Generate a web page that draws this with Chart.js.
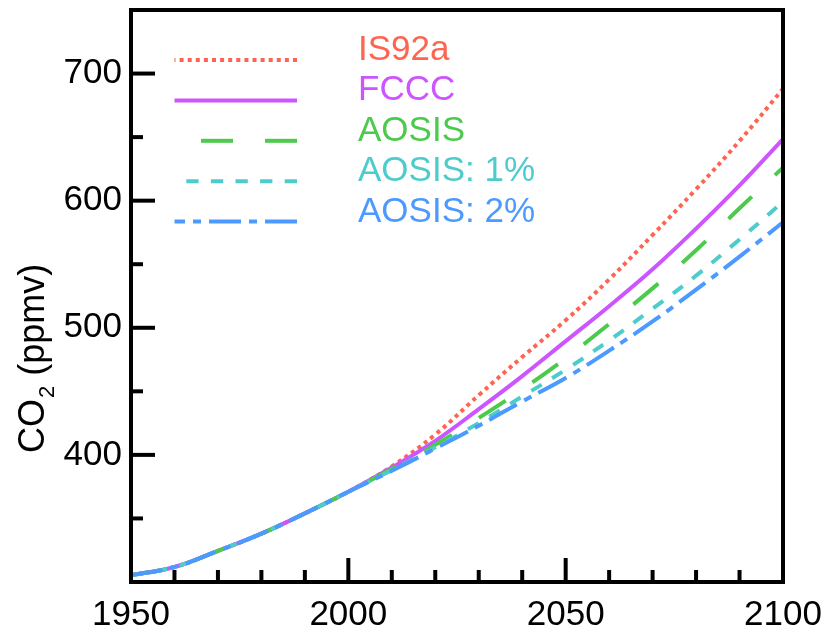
<!DOCTYPE html>
<html>
<head>
<meta charset="utf-8">
<script src="https://cdn.jsdelivr.net/npm/chart.js@4.4.1/dist/chart.umd.min.js"></script>
<style>
  html, body { margin: 0; padding: 0; background: #fff; }
  #wrap { width: 826px; height: 633px; }
</style>
</head>
<body>
<div id="wrap"><canvas id="chart" width="826" height="633"></canvas></div>
<script>
// CO2 concentration scenarios (ppmv)
const years = [1950, 1960, 1970, 1980, 1990, 2000, 2010, 2020, 2030, 2040, 2050, 2060, 2070, 2080, 2090, 2100];
const is92a = [305.3, 311.8, 324.5, 338, 354, 371, 391, 416, 447, 477, 506, 538, 573, 609, 647, 688];
const fccc = [305.3, 311.8, 324.5, 338, 354, 371, 390, 411, 436, 462, 489.5, 517, 546, 578, 612, 648.5];
const aosis = [305.3, 311.8, 324.5, 338, 354, 371, 389, 408, 429, 451.5, 476, 503, 531, 561, 594, 626];
const aosis1 = [305.3, 311.8, 324.5, 338, 354, 371, 388, 406, 425, 446, 467, 490, 515, 541, 569.5, 599];
const aosis2 = [305.3, 311.8, 324.5, 338, 354, 371, 387.5, 405, 423, 442, 460.5, 482, 505, 530, 556, 583];

const seriesNames = ['IS92a', 'FCCC', 'AOSIS', 'AOSIS: 1%', 'AOSIS: 2%'];
const xLabelled = [1950, 2000, 2050, 2100];
const yLabelled = [400, 500, 600, 700];

const FONT = '"Liberation Sans", Arial, Helvetica, sans-serif';
const COLORS = {
    red: '#ff6450',
    purple: '#cc55ff',
    green: '#4cca4c',
    cyan: '#4ecccc',
    blue: '#4c9aff'
};

function pts(vals) {
    return years.map((yr, i) => ({ x: yr, y: vals[i] }));
}

function series(label, vals, color, dash, order) {
    return {
        label,
        data: pts(vals),
        borderColor: color,
        backgroundColor: color,
        borderWidth: 4,
        borderDash: dash,
        borderCapStyle: 'butt',
        pointRadius: 0,
        tension: 0.4,
        fill: false,
        order
    };
}

// keep the plot box exactly where the reference has it
function pinScale(size) {
    return (s) => {
        if (s.isHorizontal()) s.height = size; else s.width = size;
        s.paddingTop = 0;
        s.paddingBottom = 0;
        s.paddingLeft = 0;
        s.paddingRight = 0;
    };
}

// frame + inward tick marks
const framePlugin = {
    id: 'frame',
    afterDatasetsDraw(chart) {
        const { ctx, chartArea: a, scales: { x, y } } = chart;
        ctx.save();
        ctx.strokeStyle = '#000';
        ctx.lineWidth = 4;
        ctx.lineCap = 'butt';
        x.ticks.forEach((t) => {
            if (t.value <= x.min || t.value >= x.max) return;
            const px = x.getPixelForValue(t.value);
            const len = t.value % 50 === 0 ? 24 : 12;
            ctx.beginPath();
            ctx.moveTo(px, a.bottom);
            ctx.lineTo(px, a.bottom - len);
            ctx.stroke();
        });
        y.ticks.forEach((t) => {
            if (t.value <= y.min || t.value >= y.max) return;
            const py = y.getPixelForValue(t.value);
            const len = t.value % 100 === 0 ? 24 : 12;
            ctx.beginPath();
            ctx.moveTo(a.left, py);
            ctx.lineTo(a.left + len, py);
            ctx.stroke();
        });
        ctx.strokeRect(a.left, a.top, a.right - a.left, a.bottom - a.top);
        ctx.restore();
    }
};

// legend with line samples to the left of coloured labels
const legendPlugin = {
    id: 'sideLegend',
    afterDraw(chart) {
        const { ctx } = chart;
        ctx.save();
        chart.data.datasets.forEach((ds, i) => {
            const yRow = 60 + i * 40.4;
            ctx.strokeStyle = ds.borderColor;
            ctx.lineWidth = 4;
            ctx.setLineDash(ds.borderDash || []);
            ctx.beginPath();
            ctx.moveTo(297, yRow);
            ctx.lineTo(174.5, yRow);
            ctx.stroke();
            ctx.setLineDash([]);
            ctx.fillStyle = ds.borderColor;
            ctx.font = `35px ${FONT}`;
            ctx.textAlign = 'left';
            ctx.textBaseline = 'alphabetic';
            ctx.fillText(ds.label, 358, yRow);
        });
        ctx.restore();
    }
};

// rotated y title with a real subscript
const yTitlePlugin = {
    id: 'yTitle',
    afterDraw(chart) {
        const { ctx } = chart;
        ctx.save();
        ctx.translate(44, 453);
        ctx.rotate(-Math.PI / 2);
        ctx.fillStyle = '#000';
        ctx.textBaseline = 'alphabetic';
        ctx.textAlign = 'left';
        ctx.font = `36px ${FONT}`;
        let xo = 0;
        ctx.fillText('CO', xo, 0);
        xo += ctx.measureText('CO').width;
        ctx.font = `22px ${FONT}`;
        ctx.fillText('2', xo + 1, 10);
        xo += ctx.measureText('2').width + 1;
        ctx.font = `36px ${FONT}`;
        ctx.fillText(' (ppmv)', xo, 0);
        ctx.restore();
    }
};

new Chart(document.getElementById('chart'), {
    type: 'line',
    data: {
        datasets: [
            series(seriesNames[0], is92a, COLORS.red, [4, 4.1], 5),
            series(seriesNames[1], fccc, COLORS.purple, [], 4),
            series(seriesNames[2], aosis, COLORS.green, [32, 32], 3),
            series(seriesNames[3], aosis1, COLORS.cyan, [12.3, 12.3], 2),
            series(seriesNames[4], aosis2, COLORS.blue, [32, 8, 8, 8], 1)
        ]
    },
    options: {
        responsive: false,
        animation: false,
        devicePixelRatio: 1,
        layout: { padding: { top: 10, right: 43, left: 0, bottom: 0 } },
        plugins: {
            legend: { display: false },
            tooltip: { enabled: false }
        },
        scales: {
            x: {
                type: 'linear',
                min: 1950,
                max: 2100,
                grid: { display: false, drawTicks: false },
                border: { display: false },
                ticks: {
                    stepSize: 10,
                    color: '#000',
                    padding: 12,
                    maxRotation: 0,
                    autoSkip: false,
                    font: { family: FONT, size: 35 },
                    callback: (v) => (xLabelled.includes(v) ? String(v) : '')
                },
                afterFit: pinScale(51)
            },
            y: {
                type: 'linear',
                min: 300,
                max: 750,
                grid: { display: false, drawTicks: false },
                border: { display: false },
                ticks: {
                    stepSize: 50,
                    color: '#000',
                    padding: 9,
                    autoSkip: false,
                    font: { family: FONT, size: 35 },
                    callback: (v) => (yLabelled.includes(v) ? String(v) : '')
                },
                afterFit: pinScale(131)
            }
        }
    },
    plugins: [framePlugin, legendPlugin, yTitlePlugin]
});
</script>
</body>
</html>
